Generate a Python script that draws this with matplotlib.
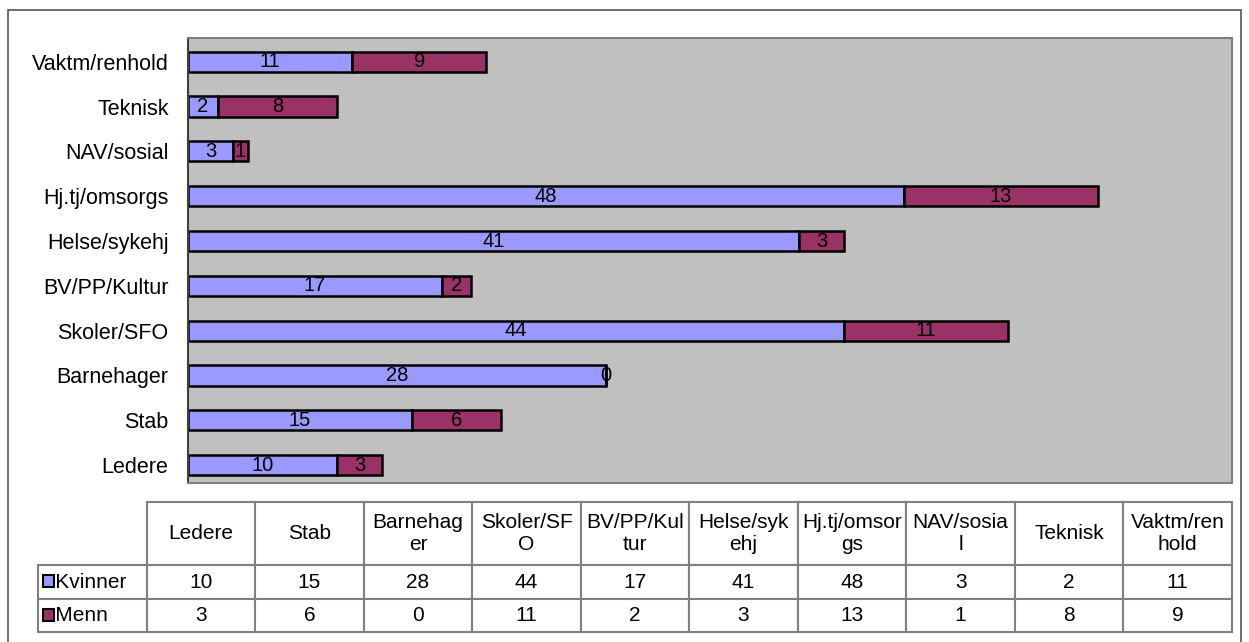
import numpy as np
import matplotlib.pyplot as plt
from matplotlib.patches import Rectangle

plt.rcParams['font.family'] = ['Liberation Sans', 'DejaVu Sans']

categories = ['Ledere', 'Stab', 'Barnehager', 'Skoler/SFO', 'BV/PP/Kultur',
              'Helse/sykehj', 'Hj.tj/omsorgs', 'NAV/sosial', 'Teknisk', 'Vaktm/renhold']
header_labels = ['Ledere', 'Stab', 'Barnehag\ner', 'Skoler/SF\nO', 'BV/PP/Kul\ntur',
                 'Helse/syk\nehj', 'Hj.tj/omsor\ngs', 'NAV/sosia\nl', 'Teknisk', 'Vaktm/ren\nhold']
kvinner = [10, 15, 28, 44, 17, 41, 48, 3, 2, 11]
menn = [3, 6, 0, 11, 2, 3, 13, 1, 8, 9]
series_names = ['Kvinner', 'Menn']
colors = ['#9999FF', '#993366']

W, H = 1249, 642
fig = plt.figure(figsize=(W / 100, H / 100), dpi=100)

# outer frame (bottom edge runs off the picture)
fig.patches.append(Rectangle((8 / W, -0.05), (1241 - 8) / W, 1.05 - 10 / H,
                             transform=fig.transFigure, fill=False,
                             edgecolor='#555555', linewidth=1.2))

ax = fig.add_axes([188 / W, 1 - 483 / H, (1232 - 188) / W, (483 - 38) / H])
ax.set_facecolor('#C0C0C0')
y = np.arange(len(categories))
h = 0.45
ax.barh(y, kvinner, height=h, color=colors[0], edgecolor='black', linewidth=1.8)
ax.barh(y, menn, left=kvinner, height=h, color=colors[1], edgecolor='black', linewidth=1.8)
for i in range(len(categories)):
    ax.text(kvinner[i] / 2, y[i], str(kvinner[i]), ha='center', va='center', fontsize=14.5)
    ax.text(kvinner[i] + menn[i] / 2, y[i], str(menn[i]), ha='center', va='center', fontsize=14.5)

ax.set_xlim(0, 70)
ax.set_ylim(-0.4, 9.53)
ax.set_xticks([])
ax.set_yticks(y)
ax.set_yticklabels(categories, fontsize=15.5)
ax.tick_params(axis='y', length=0, pad=14)
for s in ax.spines.values():
    s.set_color('#808080')
    s.set_linewidth(1.5)
ax.spines['left'].set_color('#404040')

# data table
tax = fig.add_axes([38 / W, 1 - 632 / H, (1232 - 38) / W, (632 - 502) / H])
tax.axis('off')
cell_text = [[''] + header_labels,
             ['   ' + series_names[0]] + [str(v) for v in kvinner],
             ['   ' + series_names[1]] + [str(v) for v in menn]]
tbl = tax.table(cellText=cell_text, bbox=[0, 0, 1, 1], cellLoc='center')
tbl.auto_set_font_size(False)
tbl.set_fontsize(15)
for (r, c), cell in tbl.get_celld().items():
    cell.set_edgecolor('#808080')
    cell.set_linewidth(1.5)
    cell.set_height(63 if r == 0 else 33)
    cell.set_width(1.0)
    if r == 0 and c == 0:
        cell.set_visible(False)
    if c == 0 and r > 0:
        cell.get_text().set_ha('left')
        cell._loc = 'left'
        cell.PAD = 0.0

# legend keys in table row labels
for i, yy in enumerate([581, 615]):
    fig.patches.append(Rectangle((43 / W, 1 - (yy + 6) / H), 11 / W, 12 / H,
                                 transform=fig.transFigure, facecolor=colors[i],
                                 edgecolor='black', linewidth=1.5))

fig.savefig('out.png', dpi=100)
